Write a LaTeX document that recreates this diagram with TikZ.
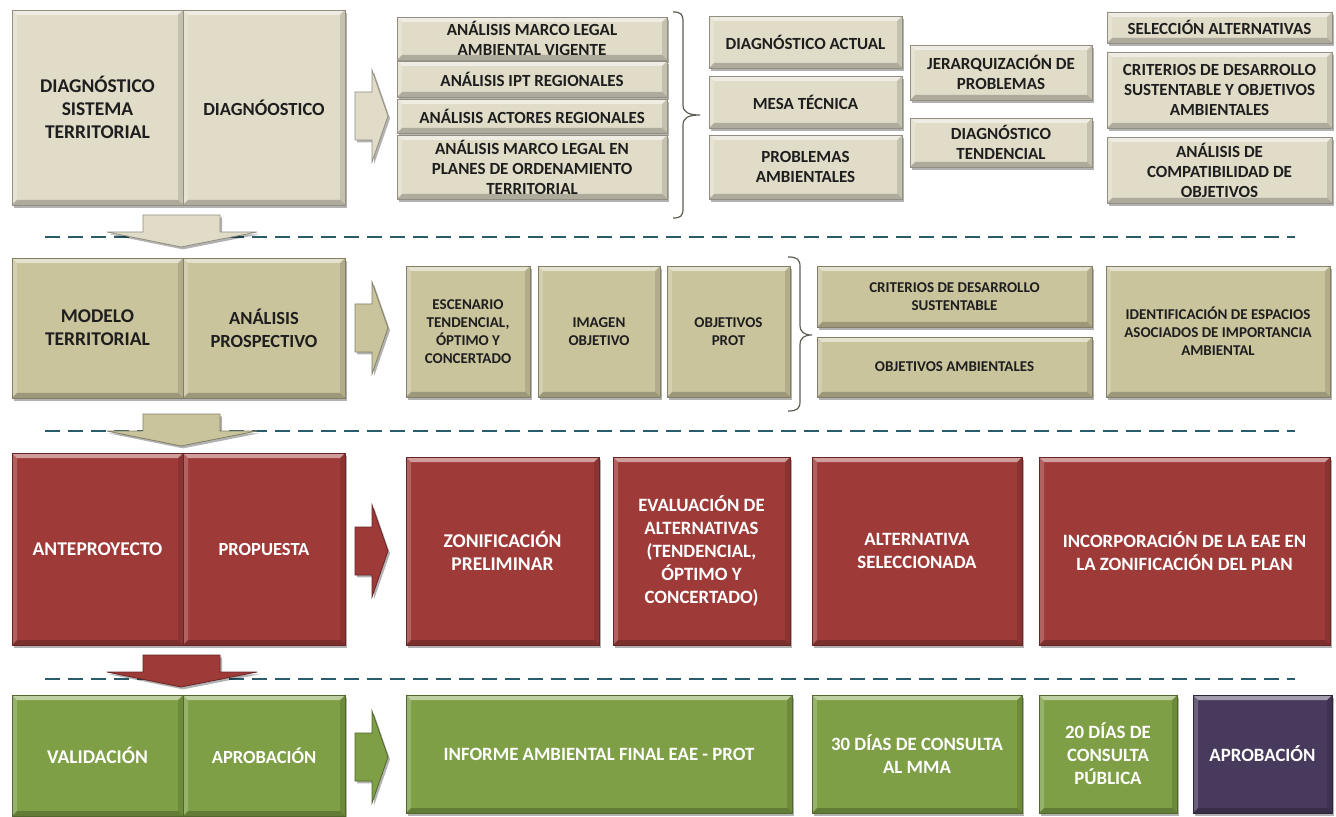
\documentclass[tikz,border=0pt]{standalone}
\usepackage{fontspec}
\setmainfont{Carlito}
\usetikzlibrary{shadows}
\definecolor{tanA}{HTML}{E0DCC8}
\definecolor{tanB}{HTML}{CAC49D}
\definecolor{redA}{HTML}{9E3B39}
\definecolor{grnA}{HTML}{7E9F45}
\definecolor{purA}{HTML}{483A5C}
\definecolor{dashC}{HTML}{2A5C6B}
\definecolor{txtD}{HTML}{1E1E1E}
\definecolor{braceC}{HTML}{5E5E55}
\newcommand\fzL{\fontsize{9.75}{11.5}\selectfont\bfseries}
\newcommand\fzM{\fontsize{9.25}{11.5}\selectfont\bfseries}
\newcommand\fzS{\fontsize{8.5}{10}\selectfont\bfseries}
\newcommand\fzT{\fontsize{7.5}{9}\selectfont\bfseries}
\newcommand\fzR{\fontsize{9.4}{11.5}\selectfont\bfseries}
\newcommand\bx[7]{\node[#6, minimum width={(#4-#2)*0.5pt}, minimum height={(#5-#3)*0.5pt}] (#1) at ({(#2+#4)/2},{(#3+#5)/2}) {#7};}
\tikzset{
 bevel/.style={path picture={
   \fill[white,opacity=0.5] (path picture bounding box.north west) -- (path picture bounding box.north east) -- ([shift={(-2.5pt,-2.5pt)}]path picture bounding box.north east) -- ([shift={(2.5pt,-2.5pt)}]path picture bounding box.north west) -- cycle;
   \fill[white,opacity=0.2] (path picture bounding box.north west) -- ([shift={(2.5pt,-2.5pt)}]path picture bounding box.north west) -- ([shift={(2.5pt,2.5pt)}]path picture bounding box.south west) -- (path picture bounding box.south west) -- cycle;
   \fill[black,opacity=0.22] (path picture bounding box.south west) -- (path picture bounding box.south east) -- ([shift={(-2.5pt,2.5pt)}]path picture bounding box.south east) -- ([shift={(2.5pt,2.5pt)}]path picture bounding box.south west) -- cycle;
   \fill[black,opacity=0.12] (path picture bounding box.north east) -- ([shift={(-2.5pt,-2.5pt)}]path picture bounding box.north east) -- ([shift={(-2.5pt,2.5pt)}]path picture bounding box.south east) -- (path picture bounding box.south east) -- cycle;
 }},
 basebox/.style={draw=#1!65!black, line width=0.4pt, fill=#1, bevel,
   drop shadow={shadow xshift=1.2pt, shadow yshift=-1.4pt, opacity=0.3, fill=black},
   inner sep=0pt, outer sep=0pt, align=center},
 tanbox/.style={basebox=tanA, text=txtD},
 tanbbox/.style={basebox=tanB, text=txtD},
 redbox/.style={basebox=redA, text=white},
 grnbox/.style={basebox=grnA, text=white},
 purbox/.style={basebox=purA, text=white},
 arrowst/.style={fill=#1, draw=#1!65!black, line width=0.4pt, line join=miter,
   drop shadow={shadow xshift=1pt, shadow yshift=-1.2pt, opacity=0.3, fill=black}},
 dashline/.style={draw=dashC, line width=1.4pt, dash pattern=on 7.5pt off 4pt},
 bracest/.style={draw=braceC, line width=0.6pt}
}
\newcommand\rarr[2]{\draw[arrowst=#2] (355,{#1-24}) -- (372,{#1-24}) -- (372,{#1-46}) -- (388,#1) -- (372,{#1+46}) -- (372,{#1+24}) -- (355,{#1+24}) -- cycle;}
\newcommand\darr[2]{\draw[arrowst=#2] (143,#1) -- (220,#1) -- (220,{#1+17}) -- (257,{#1+17}) -- (181,{#1+32}) -- (107,{#1+17}) -- (143,{#1+17}) -- cycle;}
\begin{document}
\begin{tikzpicture}[x=0.5pt,y=-0.5pt]
\useasboundingbox (0,0) rectangle (1336,817);
\fill[white] (0,0) rectangle (1336,817);
% dashed separators
\draw[dashline] (45,237) -- (1295,237);
\draw[dashline] (45,431) -- (1295,431);
\draw[dashline] (45,679) -- (1295,679);
% Row 1
\bx{r1a}{12}{10}{183}{205}{tanbox,font=\fzL}{DIAGNÓSTICO\\SISTEMA\\TERRITORIAL}
\bx{r1b}{183}{10}{345}{205}{tanbox,font=\fzM}{DIAGNÓOSTICO}
\bx{a1}{397}{17}{667}{60}{tanbox,font=\fzS}{ANÁLISIS MARCO LEGAL\\AMBIENTAL VIGENTE}
\bx{a2}{397}{61}{667}{97}{tanbox,font=\fzS}{ANÁLISIS IPT REGIONALES}
\bx{a3}{397}{99}{667}{133}{tanbox,font=\fzS}{ANÁLISIS ACTORES REGIONALES}
\bx{a4}{397}{135}{667}{199}{tanbox,font=\fzS}{ANÁLISIS MARCO LEGAL EN\\PLANES DE ORDENAMIENTO\\TERRITORIAL}
\bx{b1}{709}{16}{902}{68}{tanbox,font=\fzS}{DIAGNÓSTICO ACTUAL}
\bx{b2}{709}{76}{902}{128}{tanbox,font=\fzS}{MESA TÉCNICA}
\bx{b3}{709}{135}{902}{199}{tanbox,font=\fzS}{PROBLEMAS\\AMBIENTALES}
\bx{c1}{910}{45}{1092}{100}{tanbox,font=\fzS}{JERARQUIZACIÓN DE\\PROBLEMAS}
\bx{c2}{910}{118}{1092}{167}{tanbox,font=\fzS}{DIAGNÓSTICO\\TENDENCIAL}
\bx{d1}{1107}{12}{1332}{43}{tanbox,font=\fzS}{SELECCIÓN ALTERNATIVAS}
\bx{d2}{1107}{52}{1332}{128}{tanbox,font=\fzS}{CRITERIOS DE DESARROLLO\\SUSTENTABLE Y OBJETIVOS\\AMBIENTALES}
\bx{d3}{1107}{137}{1332}{203}{tanbox,font=\fzS}{ANÁLISIS DE\\COMPATIBILIDAD DE\\OBJETIVOS}
% Row 2
\bx{r2a}{12}{258}{183}{398}{tanbbox,font=\fzL}{MODELO\\TERRITORIAL}
\bx{r2b}{183}{258}{345}{398}{tanbbox,font=\fzM}{ANÁLISIS\\PROSPECTIVO}
\bx{e1}{406}{266}{530}{397}{tanbbox,font=\fzT}{ESCENARIO\\TENDENCIAL,\\ÓPTIMO Y\\CONCERTADO}
\bx{e2}{538}{266}{660}{397}{tanbbox,font=\fzT}{IMAGEN\\OBJETIVO}
\bx{e3}{667}{266}{790}{397}{tanbbox,font=\fzT}{OBJETIVOS\\PROT}
\bx{f1}{817}{266}{1092}{327}{tanbbox,font=\fzT}{CRITERIOS DE DESARROLLO\\SUSTENTABLE}
\bx{f2}{817}{337}{1092}{397}{tanbbox,font=\fzT}{OBJETIVOS AMBIENTALES}
\bx{g1}{1106}{266}{1330}{397}{tanbbox,font=\fzT}{IDENTIFICACIÓN DE ESPACIOS\\ASOCIADOS DE IMPORTANCIA\\AMBIENTAL}
% Row 3
\bx{r3a}{12}{453}{183}{645}{redbox,font=\fzL}{ANTEPROYECTO}
\bx{r3b}{183}{453}{345}{645}{redbox,font=\fzM}{PROPUESTA}
\bx{h1}{406}{457}{599}{645}{redbox,font=\fzL}{ZONIFICACIÓN\\PRELIMINAR}
\bx{h2}{613}{457}{790}{645}{redbox,font=\fzR}{EVALUACIÓN DE\\ALTERNATIVAS\\(TENDENCIAL,\\ÓPTIMO Y\\CONCERTADO)}
\bx{h3}{812}{457}{1022}{645}{redbox,font=\fzR}{ALTERNATIVA\\SELECCIONADA}
\bx{h4}{1039}{457}{1330}{645}{redbox,font=\fzR}{INCORPORACIÓN DE LA EAE EN\\LA ZONIFICACIÓN DEL PLAN}
% Row 4
\bx{r4a}{12}{695}{183}{816}{grnbox,font=\fzL}{VALIDACIÓN}
\bx{r4b}{183}{695}{345}{816}{grnbox,font=\fzM}{APROBACIÓN}
\bx{i1}{406}{695}{792}{813}{grnbox,font=\fzR}{INFORME AMBIENTAL FINAL EAE - PROT}
\bx{i2}{812}{695}{1022}{813}{grnbox,font=\fzR}{30 DÍAS DE CONSULTA\\AL MMA}
\bx{i3}{1039}{695}{1177}{813}{grnbox,font=\fzR}{20 DÍAS DE\\CONSULTA\\PÚBLICA}
\bx{i4}{1193}{695}{1332}{813}{purbox,font=\fzR}{APROBACIÓN}
% right arrows
\rarr{116}{tanA}
\rarr{328}{tanB}
\rarr{551}{redA}
\rarr{757}{grnA}
% down arrows
\darr{215}{tanA}
\darr{414}{tanB}
\darr{655}{redA}
% braces
\draw[bracest] (673,12) .. controls (681,12) and (683,14) .. (683,22) -- (683,105) .. controls (683,112) and (688,115) .. (700,115) .. controls (688,115) and (683,118) .. (683,125) -- (683,208) .. controls (683,216) and (681,218) .. (673,218);
\draw[bracest] (788,257) .. controls (797,257) and (800,259) .. (800,267) -- (800,325) .. controls (800,332) and (804,335) .. (812,335) .. controls (804,335) and (800,338) .. (800,345) -- (800,401) .. controls (800,409) and (797,411) .. (788,411);
\end{tikzpicture}
\end{document}
